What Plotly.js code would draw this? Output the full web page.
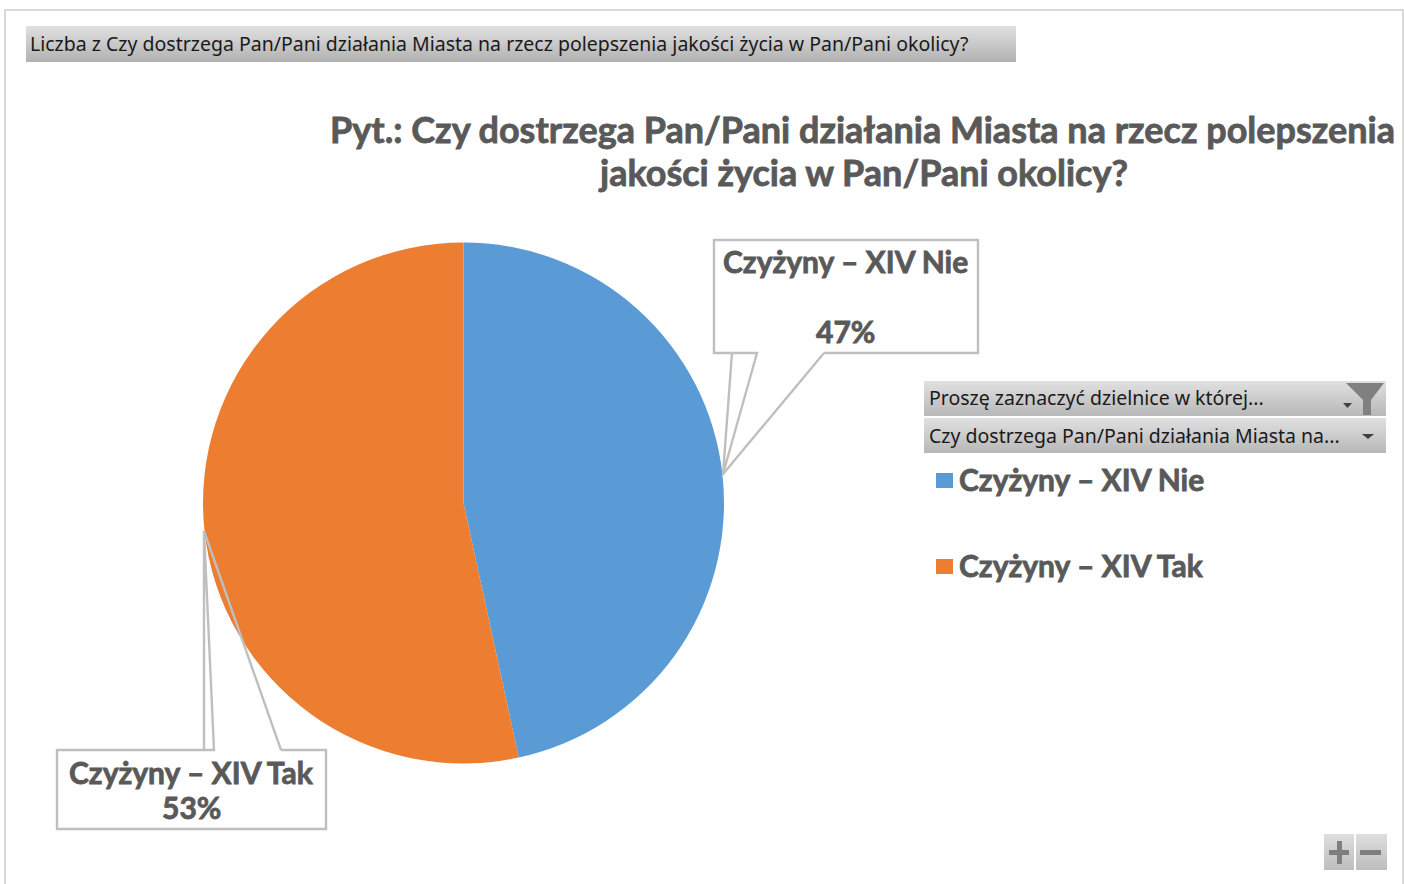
<!DOCTYPE html>
<html>
<head>
<meta charset="utf-8">
<script src="https://cdn.plot.ly/plotly-3.0.1.min.js"></script>
<style>
html,body{margin:0;padding:0;background:#fff;overflow:hidden}
</style>
</head>
<body>
<div id="chart" style="width:1404px;height:884px"></div>
<script>
// ---- data ----
const categories = ['Czyżyny – XIV Nie', 'Czyżyny – XIV Tak'];
const shares = [46.6, 53.4];
const sliceColors = ['#5B9BD5', '#ED7D31'];
const titleLines = ['Pyt.: Czy dostrzega Pan/Pani działania Miasta na rzecz polepszenia', 'jakości życia w Pan/Pani okolicy?'];
const fieldLabel = 'Liczba z Czy dostrzega Pan/Pani działania Miasta na rzecz polepszenia jakości życia w Pan/Pani okolicy?';
const filterLabel = 'Proszę zaznaczyć dzielnice w której...';
const axisLabel = 'Czy dostrzega Pan/Pani działania Miasta na...';

const W = 1404, H = 884;
const px = x => x / W;
const py = y => 1 - y / H;
const total = shares.reduce((a, b) => a + b, 0);
const pct = v => Math.round(v / total * 100) + '%';
const GREY = '#595959', LINE = '#BFBFBF', UI = "'Noto Sans', sans-serif", BOLD = "Lato, sans-serif";

const shapes = [];
const annotations = [];
const pixelShape = (o) => shapes.push(Object.assign({xref:'paper', yref:'paper', layer:'above'}, o));
function rect(x0, y0, x1, y1, fill) {
  pixelShape({type:'rect', x0:px(x0), x1:px(x1), y0:py(y0), y1:py(y1), fillcolor:fill, line:{width:0}});
}
function path(points, opts) {
  const d = points.map((p, i) => (i ? 'L' : 'M') + px(p[0]) + ',' + py(p[1])).join(' ');
  pixelShape(Object.assign({type:'path', path:d}, opts));
}
function gradient(x0, y0, x1, y1, top, bottom) {
  const n = y1 - y0;
  for (let i = 0; i < n; i++) {
    const t = i / (n - 1);
    const v = Math.round(top + (bottom - top) * t);
    rect(x0, y0 + i, x1, y0 + i + 1, `rgb(${v},${v},${v})`);
  }
}
function label(text, x, y, font, anchor) {
  annotations.push({text, xref:'paper', yref:'paper', x:px(x), y:py(y), xanchor:anchor || 'left', yanchor:'middle',
    showarrow:false, font, borderpad:0, borderwidth:0});
}
const bold = t => '<b><span style="stroke:#595959;stroke-width:0.8px">' + t + '</span></b>';

// outer frame
path([[5, 884], [5, 10], [1403, 10], [1403, 884]], {line:{color:'#D9D9D9', width:2}});

// field buttons
gradient(26, 26, 1016, 62, 224, 178);
gradient(924, 381, 1386, 416, 224, 184);
gradient(924, 418, 1386, 453, 224, 184);
gradient(1324, 834, 1354, 870, 222, 190);
gradient(1356, 834, 1387, 870, 222, 190);
label(fieldLabel, 30, 43, {family:UI, size:19.5, color:'#1a1a1a'});
label(filterLabel, 929, 398, {family:UI, size:19.5, color:'#1a1a1a'});
label(axisLabel, 929, 435, {family:UI, size:19.5, color:'#1a1a1a'});

// filter funnel, dropdown arrows, zoom glyphs
path([[1346,383],[1384,383],[1371,400],[1371,415],[1363,415],[1363,400]], {fillcolor:'#808080', line:{width:0}});
path([[1343,403],[1352,403],[1347.5,408]], {fillcolor:'#404040', line:{width:0}});
path([[1362,434],[1374,434],[1368,439]], {fillcolor:'#404040', line:{width:0}});
rect(1329, 850, 1349, 855, '#7F7F7F');
rect(1337, 841, 1342, 864, '#7F7F7F');
rect(1360, 850, 1381, 855, '#7F7F7F');

// callouts
const callout = {fillcolor:'rgba(0,0,0,0)', line:{color:LINE, width:2.4}};
path([[824,353],[978,353],[978,240],[714,240],[714,353],[757,353],[723,474],[732,353],[723,474],[824,353]], callout);
path([[281,750],[326,750],[326,829],[57,829],[57,750],[214,750],[204,531],[204,750],[204,531],[281,750]], callout);
const labelFont = {family:BOLD, size:30, color:GREY};
label(bold(categories[0]), 845.5, 261, labelFont, 'center');
label(bold(pct(shares[0])), 845.5, 331, labelFont, 'center');
label(bold(categories[1]), 191, 772, labelFont, 'center');
label(bold(pct(shares[1])), 191, 807, labelFont, 'center');

// legend
rect(936, 473, 953, 488, sliceColors[0]);
rect(936, 559, 953, 574, sliceColors[1]);
label(bold(categories[0]), 959, 479, labelFont);
label(bold(categories[1]), 959, 565, labelFont);

// second title line (tighter line spacing than a single title block allows)
annotations.push({text:bold(titleLines[1]), xref:'paper', yref:'paper', x:px(862.5), y:py(172), xanchor:'center', yanchor:'middle',
  showarrow:false, font:{family:BOLD, size:36, color:GREY}, borderpad:0});

const trace = {
  type:'pie', labels:categories, values:shares, sort:false, direction:'clockwise', rotation:0,
  marker:{colors:sliceColors, line:{width:0}}, textinfo:'none', hoverinfo:'label+percent',
  domain:{x:[px(203), px(724)], y:[py(763.5), py(242.5)]}
};
const layout = {
  width:W, height:H, margin:{l:0, r:0, t:0, b:0, pad:0}, paper_bgcolor:'#fff', showlegend:false,
  title:{text:bold(titleLines[0]), x:px(862.5), xref:'paper', xanchor:'center', y:py(130), yref:'paper', yanchor:'middle',
    font:{family:BOLD, size:36, color:GREY}},
  shapes, annotations
};
Plotly.newPlot('chart', [trace], layout, {displayModeBar:false, staticPlot:true});
</script>
</body>
</html>
